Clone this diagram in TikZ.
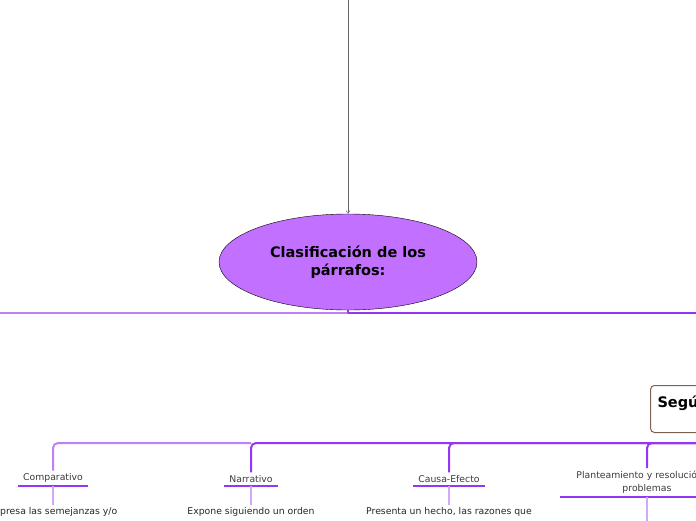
\documentclass[tikz,border=0pt]{standalone}
\usepackage{fontspec}
\setmainfont{DejaVu Sans}
\usetikzlibrary{arrows.meta,shapes.geometric}

\definecolor{mainfill}{HTML}{C170FF}
\definecolor{darkline}{HTML}{9436F5}
\definecolor{lightline}{HTML}{BD80F6}
\definecolor{paleline}{HTML}{D2A6F8}
\definecolor{boxline}{HTML}{7E6152}
\definecolor{txtgray}{HTML}{3A3A3A}

\tikzset{
    topic/.style={font=\fontsize{9.3}{13}\selectfont, text=txtgray, align=center,
        inner xsep=5pt, inner ysep=3pt, anchor=south},
    descr/.style={font=\fontsize{9.3}{12}\selectfont, text=black!85, align=center,
        anchor=north, inner sep=2pt},
    underl/.style={darkline, line width=2.6pt},
    busdark/.style={darkline, line width=2pt, rounded corners=5pt},
    buslight/.style={lightline, line width=2pt, rounded corners=5pt},
    drop/.style={paleline, line width=1.2pt}
}

\begin{document}
\begin{tikzpicture}[x=1pt,y=-1pt]
\useasboundingbox (0,0) rectangle (696,520);
\clip (0,0) rectangle (696,520);

% main topic
\node[ellipse, draw, fill=mainfill, minimum width=258pt, minimum height=96pt,
    inner sep=0pt, align=center, font=\bfseries\fontsize{14.5}{18}\selectfont]
    (clas) at (348,262) {Clasificación de los\\párrafos:};
\coordinate (src) at (348,-5);
\draw[gray!80!black, -{Straight Barb[length=3pt,width=4pt]}] (src) -- (clas.north);

% main bar
\coordinate (barL) at (-5,313);
\coordinate (barM) at (348,313);
\coordinate (barR) at (701,313);
\draw[lightline, line width=2.6pt] (barL) -- (barM);
\draw[darkline, line width=2.6pt] (barM) -- (barR);
\draw[darkline, line width=1.4pt] (clas.south) -- (barM);

% subtopic box
\node[draw=boxline, line width=1pt, rounded corners=4pt, anchor=north west,
    minimum height=47pt, text width=80pt, align=left, inner sep=7pt,
    font=\bfseries\fontsize{14.5}{16}\selectfont]
    (segun) at (650,385) {\vphantom{Sg}Según\\[-2pt]\phantom{x}};

% topics
\node[topic] (comp) at (53,486) {Comparativo};
\node[topic] (narr) at (251,486) {Narrativo};
\node[topic] (caus) at (449,486) {Causa-Efecto};
\node[topic, inner xsep=16pt] (plan) at (647,497) {Planteamiento y resolución de\\problemas};

\coordinate (bus1) at (251,443);
\coordinate (bus2) at (701,443);
\draw[buslight] (comp.north) |- (bus1);
\draw[busdark] (narr.north) |- (bus2);
\draw[busdark] (caus.north) |- (bus2);
\draw[busdark] (plan.north) |- (bus2);

\foreach \t in {comp,narr,caus,plan}
    \draw[underl] (\t.south west) -- (\t.south east);

% descriptions
\node[descr] (dcomp) at (53,505) {Expresa las semejanzas y/o};
\node[descr] (dnarr) at (251,505) {Expone siguiendo un orden};
\node[descr] (dcaus) at (449,505) {Presenta un hecho, las razones que};
\coordinate (dplan) at (647,525);

\draw[drop] (comp.south) -- (dcomp.north);
\draw[drop] (narr.south) -- (dnarr.north);
\draw[drop] (caus.south) -- (dcaus.north);
\draw[drop] (plan.south) -- (dplan);
\end{tikzpicture}
\end{document}
